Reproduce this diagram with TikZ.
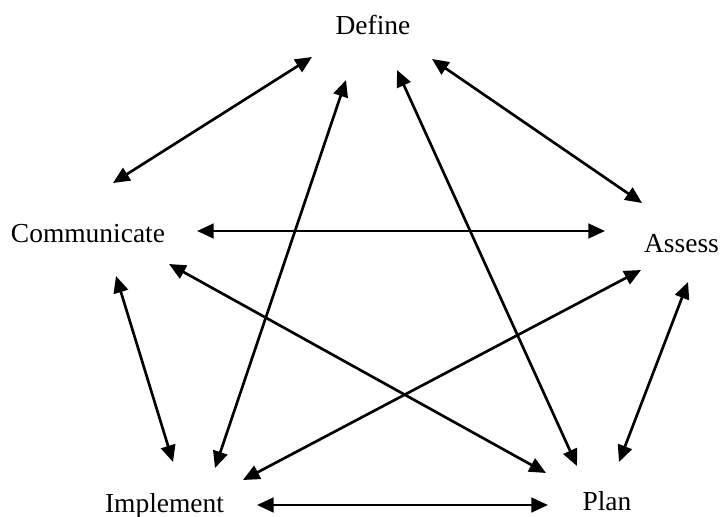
\documentclass[tikz,border=0pt]{standalone}
\usepackage{fontspec}
\setmainfont{Liberation Serif}
\usetikzlibrary{arrows.meta}
\begin{document}
\begin{tikzpicture}[x=0.75pt,y=-0.75pt,
  lbl/.style={anchor=base,inner sep=0pt,font=\fontsize{20.6}{24}\selectfont},
  link/.style={line width=2pt,{Triangle[length=12.5pt,width=11pt]}-{Triangle[length=12.5pt,width=11pt]}}]
\useasboundingbox (0,0) rectangle (722,517);
\node[lbl] (define) at (373,35) {Define};
\node[lbl] (comm) at (88,243) {Communicate};
\node[lbl] (assess) at (681.5,252) {Assess};
\node[lbl] (impl) at (164.5,512) {Implement};
\node[lbl] (plan) at (607,510) {Plan};
% endpoints
\coordinate (dc1) at (312,57);  \coordinate (dc2) at (113,183);
\coordinate (di1) at (346,80);  \coordinate (di2) at (215,468);
\coordinate (dp1) at (397,70);  \coordinate (dp2) at (577,466);
\coordinate (da1) at (432,59);  \coordinate (da2) at (642,203);
\coordinate (ca1) at (197,231); \coordinate (ca2) at (605,231);
\coordinate (cp1) at (169,264); \coordinate (cp2) at (546,473);
\coordinate (ci1) at (116,276); \coordinate (ci2) at (173,462);
\coordinate (ai1) at (641,270); \coordinate (ai2) at (243,480);
\coordinate (ap1) at (688,282); \coordinate (ap2) at (619,462);
\coordinate (ip1) at (257,505); \coordinate (ip2) at (548,505);
\draw[link] (dc1) -- (dc2);
\draw[link] (di1) -- (di2);
\draw[link] (dp1) -- (dp2);
\draw[link] (da1) -- (da2);
\draw[link] (ca1) -- (ca2);
\draw[link] (cp1) -- (cp2);
\draw[link] (ci1) -- (ci2);
\draw[link] (ai1) -- (ai2);
\draw[link] (ap1) -- (ap2);
\draw[link] (ip1) -- (ip2);
\end{tikzpicture}
\end{document}
